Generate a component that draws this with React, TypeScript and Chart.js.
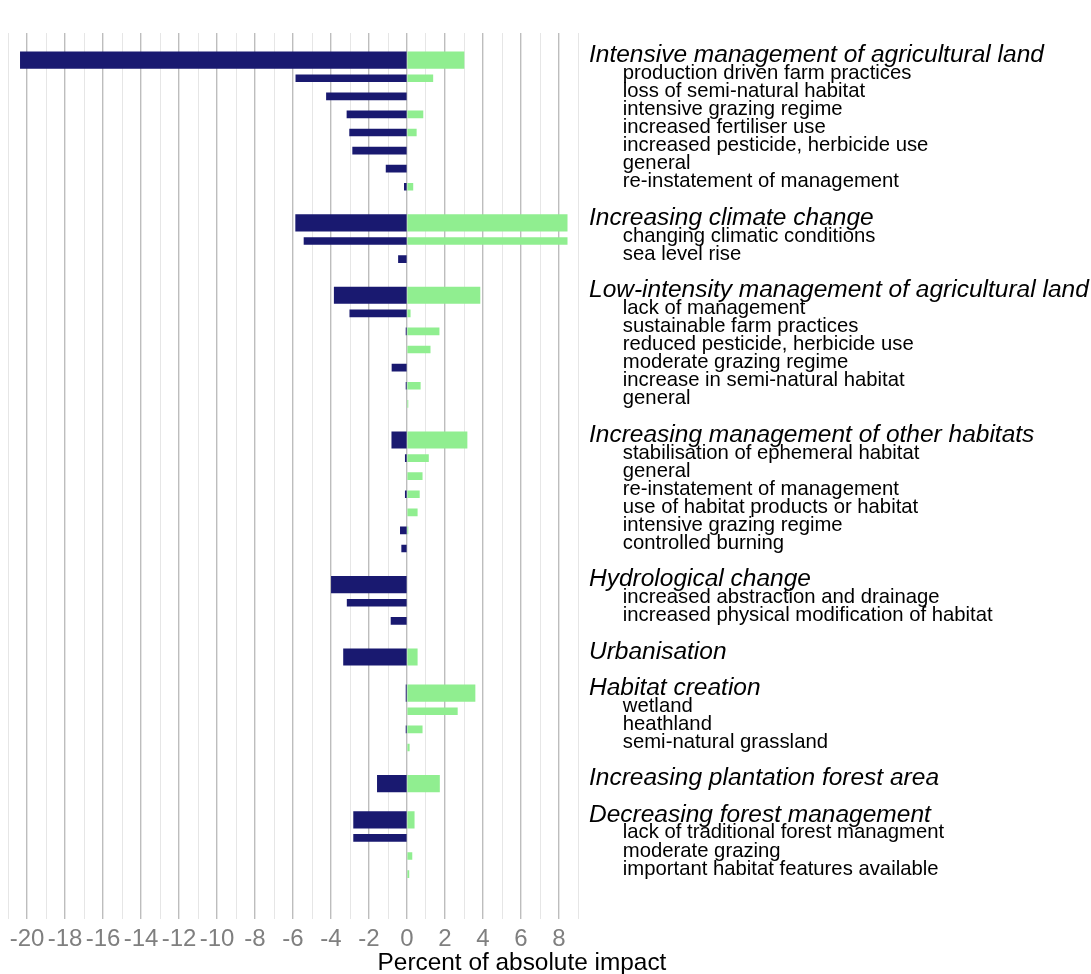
import React, { useEffect, useRef } from 'react';
import { Chart, registerables } from 'chart.js';

Chart.register(...registerables);

// ---- data -------------------------------------------------------------
const categories: string[] = [
  '',
  'Intensive management of agricultural land',
  'production driven farm practices',
  'loss of semi-natural habitat',
  'intensive grazing regime',
  'increased fertiliser use',
  'increased pesticide, herbicide use',
  'general',
  're-instatement of management',
  '',
  'Increasing climate change',
  'changing climatic conditions',
  'sea level rise',
  '',
  'Low-intensity management of agricultural land',
  'lack of management',
  'sustainable farm practices',
  'reduced pesticide, herbicide use',
  'moderate grazing regime',
  'increase in semi-natural habitat',
  'general',
  '',
  'Increasing management of other habitats',
  'stabilisation of ephemeral habitat',
  'general',
  're-instatement of management',
  'use of habitat products or habitat',
  'intensive grazing regime',
  'controlled burning',
  '',
  'Hydrological change',
  'increased abstraction and drainage',
  'increased physical modification of habitat',
  '',
  'Urbanisation',
  '',
  'Habitat creation',
  'wetland',
  'heathland',
  'semi-natural grassland',
  '',
  'Increasing plantation forest area',
  '',
  'Decreasing forest management',
  'lack of traditional forest managment',
  'moderate grazing',
  'important habitat features available',
  '',
  '',
];

const groupHeaders: string[] = [
  'Intensive management of agricultural land',
  'Increasing climate change',
  'Low-intensity management of agricultural land',
  'Increasing management of other habitats',
  'Hydrological change',
  'Urbanisation',
  'Habitat creation',
  'Increasing plantation forest area',
  'Decreasing forest management',
];

const negativeImpact: (number | null)[] = [
  null,
  -20.35, -5.85, -4.24, -3.16, -3.02, -2.86, -1.1, -0.14,
  null,
  -5.86, -5.42, -0.45,
  null,
  -3.83, -3.01, -0.05, 0, -0.79, -0.05, 0,
  null,
  -0.8, -0.09, 0, -0.09, 0, -0.35, -0.28,
  null,
  -3.98, -3.15, -0.84,
  null,
  -3.34,
  null,
  -0.05, 0, -0.05, 0,
  null,
  -1.56,
  null,
  -2.81, -2.81, 0, 0,
  null,
  null,
];

const positiveImpact: (number | null)[] = [
  null,
  3.0, 1.36, 0, 0.84, 0.49, 0, 0, 0.31,
  null,
  8.43, 8.43, 0,
  null,
  3.84, 0.17, 1.69, 1.22, 0, 0.7, 0.05,
  null,
  3.16, 1.13, 0.8, 0.65, 0.54, 0.05, 0,
  null,
  0, 0, 0,
  null,
  0.54,
  null,
  3.58, 2.65, 0.8, 0.12,
  null,
  1.71,
  null,
  0.38, 0, 0.26, 0.1,
  null,
  null,
];

const xTickMin = -21;
const xTickMax = 9;
const axisTitle = 'Percent of absolute impact';

// ---- styling ----------------------------------------------------------
const FONT = '"Liberation Sans", Arial, Helvetica, sans-serif';
const NAVY = '#191970';
const GREEN = '#90EE90';

export default function App() {
  const canvasRef = useRef<HTMLCanvasElement>(null);

  useEffect(() => {
    document.body.style.margin = '0';
    document.body.style.overflow = 'hidden';
    const canvas = canvasRef.current;
    if (!canvas) return;

    const kinds = categories.map((c) =>
      c === '' ? 'gap' : groupHeaders.includes(c) ? 'header' : 'item'
    );
    const labels = categories.map((c, i) =>
      kinds[i] === 'item' ? '      ' + c : c
    );
    const pick = (arr: (number | null)[], kind: string) =>
      arr.map((v, i) => (kinds[i] === kind && v ? v : null));

    const chart = new Chart(canvas, {
      type: 'bar',
      data: {
        labels,
        datasets: [
          { label: 'header negative', data: pick(negativeImpact, 'header'), backgroundColor: NAVY, barThickness: 16.5, borderWidth: 0 },
          { label: 'header positive', data: pick(positiveImpact, 'header'), backgroundColor: GREEN, barThickness: 16.5, borderWidth: 0 },
          { label: 'item negative', data: pick(negativeImpact, 'item'), backgroundColor: NAVY, barThickness: 7, borderWidth: 0 },
          { label: 'item positive', data: pick(positiveImpact, 'item'), backgroundColor: GREEN, barThickness: 7, borderWidth: 0 },
        ],
      },
      options: {
        indexAxis: 'y',
        responsive: false,
        animation: false,
        layout: { padding: { left: 8, right: 0, top: 33, bottom: 20.7 } },
        plugins: {
          legend: { display: false },
          tooltip: { enabled: false },
        },
        scales: {
          x: {
            type: 'linear',
            min: xTickMin,
            max: xTickMax,
            stacked: true,
            border: { display: false },
            grid: {
              drawTicks: false,
              color: (ctx: any) =>
                ctx.tick && Math.round(ctx.tick.value) % 2 === 0 ? '#bdbdbd' : '#e6e6e6',
              lineWidth: (ctx: any) =>
                ctx.tick && Math.round(ctx.tick.value) % 2 === 0 ? 1.4 : 1,
            },
            ticks: {
              stepSize: 1,
              autoSkip: false,
              maxRotation: 0,
              padding: 6,
              color: '#7f7f7f',
              font: { family: FONT, size: 24 },
              callback: (v: any) => (Number(v) % 2 === 0 ? String(v) : ''),
            },
            afterFit: (s: any) => {
              s.height = 34;
            },
          },
          y: {
            type: 'category',
            position: 'right',
            stacked: true,
            offset: true,
            border: { display: false },
            grid: { display: false, drawTicks: false },
            ticks: {
              autoSkip: false,
              padding: 11,
              labelOffset: -5,
              color: '#000000',
              font: (ctx: any) =>
                kinds[ctx.index] === 'header'
                  ? { family: FONT, size: 24.5, style: 'italic' }
                  : { family: FONT, size: 20.3 },
            },
            afterFit: (s: any) => {
              s.width = 513;
            },
          },
        },
      } as any,
    });

    return () => chart.destroy();
  }, []);

  return (
    <div style={{ position: 'absolute', left: 0, top: 0, width: 1091, height: 974, background: '#fff' }}>
      <canvas ref={canvasRef} width={1091} height={974} style={{ display: 'block' }} />
      <div
        style={{
          position: 'absolute',
          left: 0,
          width: 1044,
          top: 950,
          textAlign: 'center',
          fontFamily: FONT,
          fontSize: 24.4,
          lineHeight: '24px',
          color: '#000',
        }}
      >
        {axisTitle}
      </div>
    </div>
  );
}
